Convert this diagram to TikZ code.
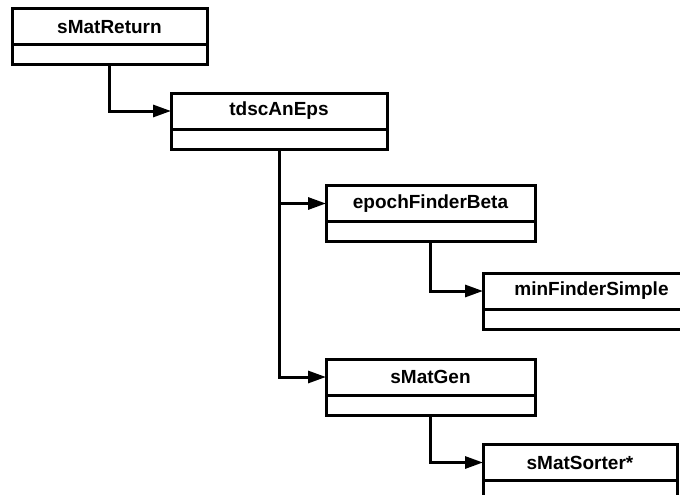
\documentclass[tikz,border=0pt]{standalone}
\usepackage{fontspec}
\setmainfont{Liberation Sans}
\usetikzlibrary{arrows.meta}
\begin{document}
\begin{tikzpicture}[x=1pt,y=-1pt,
  classname/.style={draw, line width=3pt, minimum height=36pt, inner sep=0pt, outer sep=0pt,
    font=\fontsize{19}{22}\selectfont\bfseries},
  classbody/.style={draw, line width=3pt, minimum height=20pt, inner sep=0pt, outer sep=0pt,
    anchor=north},
  conn/.style={line width=3pt, -{Triangle[length=18pt,width=12pt]}}]
  \clip (0,0) rectangle (680,495);
  \fill[white] (0,0) rectangle (680,495);

  % class boxes: name compartment plus empty body compartment
  \node[classname, minimum width=195pt] (ret) at (109.5,27) {sMatReturn};
  \node[classbody, minimum width=195pt] (retb) at (ret.south) {};

  \node[classname, minimum width=216pt] (tds) at (279,111) {tdscAnEps};
  \node[classbody, minimum width=216pt] (tdsb) at (tds.south) {};

  \node[classname, minimum width=209pt] (epo) at (430.5,203.5) {epochFinderBeta};
  \node[classbody, minimum width=209pt] (epob) at (epo.south) {};

  \node[classname, minimum width=217pt] (minf) at (591.5,291) {minFinderSimple};
  \node[classbody, minimum width=217pt] (minfb) at (minf.south) {};

  \node[classname, minimum width=209pt] (gen) at (430.5,377) {sMatGen};
  \node[classbody, minimum width=209pt] (genb) at (gen.south) {};

  \node[classname, minimum width=194pt] (sor) at (580,462.5) {sMatSorter*};
  \node[classbody, minimum width=194pt] (sorb) at (sor.south) {};

  % call connectors
  \draw[conn] (retb.south) |- (tds.west);
  \draw[conn] (tdsb.south) |- (epo.west);
  \draw[conn] (tdsb.south) |- (gen.west);
  \draw[conn] (epob.south) |- (minf.west);
  \draw[conn] (genb.south) |- (sor.west);
\end{tikzpicture}
\end{document}
